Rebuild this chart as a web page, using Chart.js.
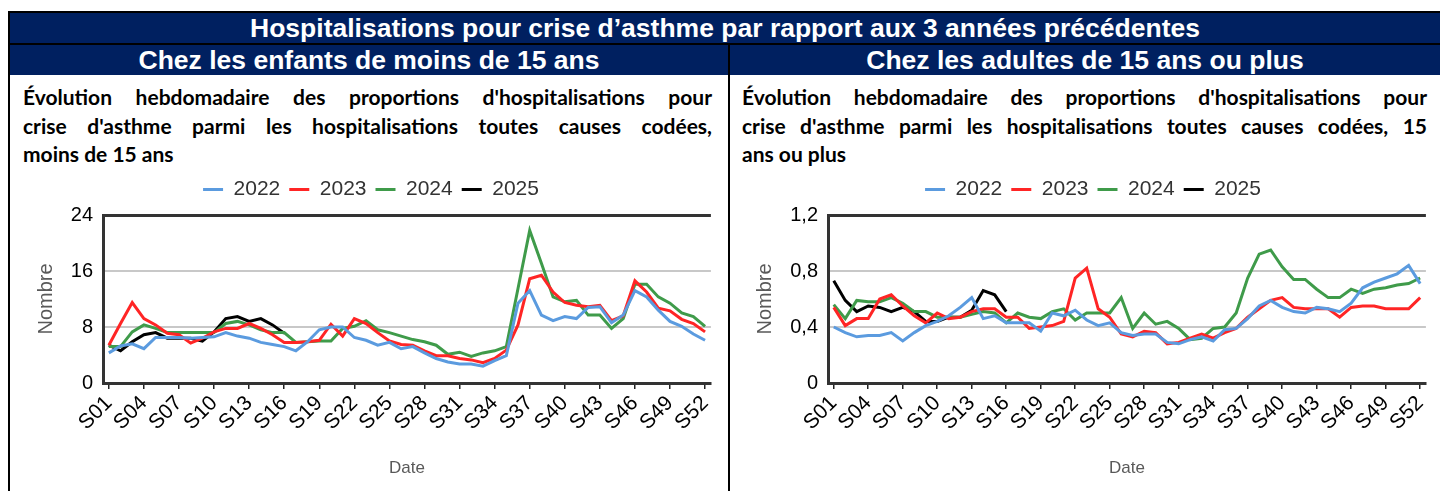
<!DOCTYPE html>
<html lang="fr">
<head>
<meta charset="utf-8">
<title>Hospitalisations pour crise d'asthme</title>
<script src="https://cdn.jsdelivr.net/npm/chart.js"></script>
<style>
  body { margin: 0; width: 1440px; height: 491px; background: #fff; position: relative; overflow: hidden;
         font-family: "Liberation Sans", Arial, sans-serif; }
  .trait { position: absolute; background: #000; }
  .bande { position: absolute; background: #002060; color: #fff; font-weight: bold; text-align: center;
           height: 30px; line-height: 31px; font-size: 26.5px; }
  .texte { position: absolute; top: 83px; font-family: Lato, "Open Sans", sans-serif; font-weight: bold;
           font-size: 21px; line-height: 28.5px; color: #000; }
  .texte div { text-align: justify; text-align-last: justify; white-space: nowrap; }
  .texte div.fin { text-align-last: left; }
  .graphe { position: absolute; top: 170px; }
</style>
</head>
<body>
<div class="trait" style="left:8px; top:11px; width:1432px; height:2px"></div>
<div class="trait" style="left:8px; top:11px; width:2px; height:480px"></div>
<div class="bande" style="left:10px; top:13px; width:1430px">Hospitalisations pour crise d’asthme par rapport aux 3 années précédentes</div>
<div class="trait" style="left:10px; top:43px; width:1430px; height:2px"></div>
<div class="bande" style="left:10px; top:45px; width:718px">Chez les enfants de moins de 15 ans</div>
<div class="bande" style="left:730px; top:45px; width:710px">Chez les adultes de 15 ans ou plus</div>
<div class="trait" style="left:728px; top:45px; width:2px; height:446px"></div>

<div class="texte" style="left:23px; width:689px">
  <div>Évolution hebdomadaire des proportions d'hospitalisations pour</div>
  <div>crise d'asthme parmi les hospitalisations toutes causes codées,</div>
  <div class="fin">moins de 15 ans</div>
</div>
<div class="texte" style="left:742px; width:685px">
  <div>Évolution hebdomadaire des proportions d'hospitalisations pour</div>
  <div>crise d'asthme parmi les hospitalisations toutes causes codées, 15</div>
  <div class="fin">ans ou plus</div>
</div>

<div class="graphe" style="left:10px"><canvas id="enfants" width="715" height="321"></canvas></div>
<div class="graphe" style="left:731px"><canvas id="adultes" width="709" height="321"></canvas></div>

<script>
// semaines S01 .. S52
const weeks = Array.from({ length: 52 }, (_, i) => 'S' + String(i + 1).padStart(2, '0'));
const years = ['2022', '2023', '2024', '2025'];
const colors = ['#5b9bdf', '#ff2525', '#3f9b4a', '#000000'];

// moins de 15 ans
const enfants2022 = [4.3, 5.3, 5.6, 4.9, 6.5, 6.5, 6.5, 6.4, 6.5, 6.6, 7.2, 6.7, 6.4, 5.8, 5.5, 5.2, 4.6, 5.9, 7.6, 8.0, 8.0, 6.5, 6.1,
  5.4, 5.8, 4.9, 5.2, 4.3, 3.5, 3.0, 2.7, 2.7, 2.4, 3.2, 3.9, 11.4, 13.2, 9.7, 8.9, 9.5, 9.2, 10.8, 10.9, 8.6, 9.7, 13.2, 12.3, 10.4, 8.8, 8.1, 7.0, 6.1];
const enfants2023 = [5.4, 8.5, 11.5, 9.2, 8.3, 7.1, 6.9, 5.7, 6.4, 7.3, 7.8, 7.8, 8.5, 7.8, 6.9, 5.8, 5.8, 5.9, 6.1, 8.4, 6.7, 9.2, 8.5,
  7.2, 6.0, 5.5, 5.4, 4.6, 3.9, 3.9, 3.5, 3.3, 2.9, 3.5, 4.7, 8.3, 14.9, 15.4, 13.0, 11.5, 11.1, 10.9, 11.1, 8.9, 9.6, 14.6, 13.0, 10.7, 10.3, 9.1, 8.5, 7.3];
const enfants2024 = [5.2, 5.2, 7.3, 8.3, 7.8, 7.2, 7.2, 7.2, 7.2, 7.2, 8.5, 8.8, 8.3, 7.6, 7.2, 7.2, 5.8, 5.9, 6.0, 6.0, 7.8, 8.1, 8.9,
  7.6, 7.2, 6.7, 6.2, 5.9, 5.4, 4.1, 4.4, 3.8, 4.3, 4.6, 5.2, 13.5, 21.8, 17.1, 12.3, 11.6, 11.8, 9.7, 9.7, 7.8, 9.2, 14.1, 14.1, 12.3, 11.4, 10.0, 9.5, 8.1];
const enfants2025 = [5.4, 4.6, 5.9, 6.9, 7.2, 6.4, 6.4, 6.4, 6.0, 7.3, 9.2, 9.5, 8.8, 9.2, 8.3, 7.1];

// 15 ans ou plus
const adultes2022 = [0.40, 0.36, 0.33, 0.34, 0.34, 0.36, 0.30, 0.36, 0.41, 0.44, 0.48, 0.54, 0.61, 0.46, 0.48, 0.43, 0.43, 0.43, 0.37, 0.50, 0.48, 0.52,
  0.45, 0.41, 0.43, 0.36, 0.34, 0.35, 0.35, 0.29, 0.28, 0.31, 0.33, 0.30, 0.38, 0.39, 0.46, 0.55, 0.59, 0.54, 0.51, 0.50, 0.54, 0.53, 0.51, 0.57, 0.68, 0.72, 0.75, 0.78, 0.84, 0.71];
const adultes2023 = [0.54, 0.41, 0.46, 0.46, 0.60, 0.63, 0.55, 0.48, 0.43, 0.50, 0.46, 0.47, 0.51, 0.53, 0.53, 0.47, 0.47, 0.39, 0.40, 0.41, 0.44, 0.75,
  0.82, 0.53, 0.47, 0.35, 0.33, 0.37, 0.36, 0.28, 0.29, 0.32, 0.35, 0.32, 0.36, 0.39, 0.47, 0.53, 0.59, 0.61, 0.54, 0.53, 0.53, 0.53, 0.47, 0.54, 0.55, 0.55, 0.53, 0.53, 0.53, 0.61];
const adultes2024 = [0.56, 0.46, 0.59, 0.58, 0.58, 0.61, 0.57, 0.51, 0.51, 0.47, 0.47, 0.47, 0.49, 0.51, 0.50, 0.43, 0.50, 0.47, 0.46, 0.51, 0.53, 0.45,
  0.50, 0.50, 0.50, 0.61, 0.39, 0.50, 0.42, 0.44, 0.39, 0.31, 0.32, 0.39, 0.40, 0.50, 0.75, 0.92, 0.95, 0.83, 0.74, 0.74, 0.67, 0.61, 0.61, 0.67, 0.64, 0.67, 0.68, 0.70, 0.71, 0.75];
const adultes2025 = [0.73, 0.59, 0.51, 0.55, 0.54, 0.51, 0.54, 0.51, 0.44, 0.44, 0.47, 0.47, 0.52, 0.66, 0.63, 0.51];

Chart.defaults.font.family = '"Liberation Sans", Arial, sans-serif';
Chart.defaults.color = '#000';

// hauteur fixe pour la légende, la zone de tracé commence juste dessous
const legendHeight = {
  id: 'legendHeight',
  beforeInit(chart) {
    const fit = chart.legend.fit;
    chart.legend.fit = function () {
      fit.call(this);
      this.height = 45;
    };
  }
};

function makeDatasets(series) {
  return series.map((data, i) => ({
    label: years[i],
    data: data,
    borderColor: colors[i],
    backgroundColor: colors[i],
    borderWidth: 3,
    pointRadius: 0,
    pointStyle: 'line',
    tension: 0
  }));
}

function makeOptions(yMax, yStep, fmt, padLeft, yWidth, padRight) {
  return {
    responsive: false,
    animation: false,
    layout: { padding: { left: padLeft, right: padRight, top: 0, bottom: 8 } },
    plugins: {
      tooltip: { enabled: false },
      legend: {
        position: 'top',
        labels: {
          usePointStyle: true,
          pointStyleWidth: 20,
          padding: 9,
          color: '#333',
          font: { size: 21 }
        }
      }
    },
    scales: {
      x: {
        offset: true,
        afterFit: s => { s.height = 100; },
        border: { color: '#333', width: 3 },
        grid: {
          offset: false,
          drawOnChartArea: false,
          tickLength: 6,
          lineWidth: 1.5,
          color: c => c.index % 3 === 0 ? '#222' : 'rgba(0,0,0,0)'
        },
        ticks: {
          autoSkip: false,
          maxRotation: 45,
          minRotation: 45,
          padding: 2,
          color: '#000',
          font: { size: 21 },
          callback: (v, i) => i % 3 === 0 ? weeks[i] : ''
        },
        title: { display: true, text: 'Date', color: '#595959', font: { size: 17 } }
      },
      y: {
        min: 0,
        max: yMax,
        afterFit: s => { s.width = yWidth; },
        border: { color: '#333', width: 3 },
        grid: {
          drawTicks: false,
          color: c => c.tick.value >= yMax ? '#333' : (c.tick.value === 0 ? 'rgba(0,0,0,0)' : '#c8c8c8'),
          lineWidth: c => c.tick.value >= yMax ? 3 : 2
        },
        ticks: {
          stepSize: yStep,
          padding: 10,
          color: '#000',
          font: { size: 20 },
          callback: fmt
        },
        title: { display: true, text: 'Nombre', color: '#595959', font: { size: 20 } }
      }
    }
  };
}

new Chart(document.getElementById('enfants'), {
  type: 'line',
  data: { labels: weeks, datasets: makeDatasets([enfants2022, enfants2023, enfants2024, enfants2025]) },
  options: makeOptions(24, 8, v => v, 20, 73, 13),
  plugins: [legendHeight]
});

new Chart(document.getElementById('adultes'), {
  type: 'line',
  data: { labels: weeks, datasets: makeDatasets([adultes2022, adultes2023, adultes2024, adultes2025]) },
  options: makeOptions(1.2, 0.4, v => String(Math.round(v * 10) / 10).replace('.', ','), 18, 79, 3),
  plugins: [legendHeight]
});
</script>
</body>
</html>
